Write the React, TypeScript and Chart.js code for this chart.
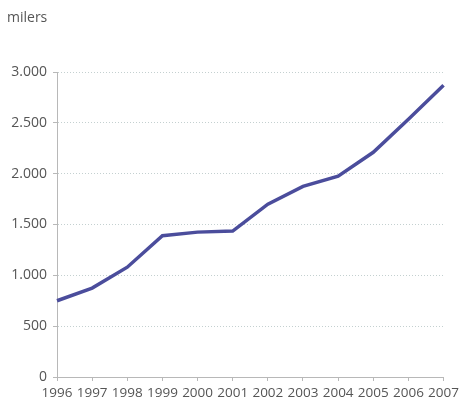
import React, { useEffect, useRef } from "react";
import { Chart, registerables } from "chart.js";

Chart.register(...registerables);

const years = ["1996", "1997", "1998", "1999", "2000", "2001", "2002", "2003", "2004", "2005", "2006", "2007"];
const values = [750, 875, 1080, 1390, 1425, 1435, 1700, 1875, 1975, 2210, 2535, 2870];
const unitLabel = "milers";

const fmt = (v: number) => String(v).replace(/\B(?=(\d{3})+(?!\d))/g, ".");

const unitPlugin = {
  id: "unitLabel",
  afterDraw(chart: any) {
    const ctx = chart.ctx;
    ctx.save();
    ctx.font = "14px 'Open Sans', sans-serif";
    ctx.fillStyle = "#555";
    ctx.textAlign = "left";
    ctx.textBaseline = "middle";
    ctx.fillText(unitLabel, 7, 18);
    ctx.restore();
  },
};

export default function App() {
  const ref = useRef<HTMLCanvasElement | null>(null);
  useEffect(() => {
    if (!ref.current) return;
    const chart = new Chart(ref.current, {
      type: "line",
      data: {
        labels: years,
        datasets: [
          {
            data: values,
            borderColor: "#4b4d9c",
            borderWidth: 3.5,
            pointRadius: 0,
            tension: 0,
            fill: false,
          },
        ],
      },
      options: {
        animation: false,
        responsive: false,
        layout: { padding: { top: 72, right: 9, left: 0, bottom: 0 } },
        plugins: { legend: { display: false }, tooltip: { enabled: false }, title: { display: false } },
        scales: {
          x: {
            offset: false,
            grid: {
              display: true,
              drawOnChartArea: false,
              drawTicks: true,
              tickLength: 4,
              tickColor: "#b8b8b8",
            },
            border: { display: true, color: "#b8b8b8", width: 1 },
            ticks: {
              autoSkip: false,
              maxRotation: 0,
              minRotation: 0,
              color: "#555",
              padding: 4,
              font: { family: "'Open Sans', sans-serif", size: 13.5 },
            },
            afterFit: (s: any) => {
              s.height = 27;
            },
          },
          y: {
            min: 0,
            max: 3000,
            ticks: {
              stepSize: 500,
              color: "#555",
              padding: 6,
              font: { family: "'Open Sans', sans-serif", size: 14 },
              callback: (v: any) => fmt(Number(v)),
            },
            grid: {
              color: (c: any) => (c.tick && c.tick.value === 0 ? "rgba(0,0,0,0)" : "#c4d0d0"),
              lineWidth: 1,
              drawTicks: true,
              tickLength: 4,
              tickColor: "#b8b8b8",
              tickBorderDash: [],
            },
            border: { display: true, color: "#b8b8b8", width: 1, dash: [1, 2] },
            afterFit: (s: any) => {
              s.width = 57;
            },
          },
        },
      },
      plugins: [unitPlugin],
    } as any);
    return () => chart.destroy();
  }, []);
  return (
    <div style={{ position: "fixed", left: 0, top: 0, width: 463, height: 404, background: "#fff" }}>
      <canvas ref={ref} width={463} height={404} style={{ width: 463, height: 404 }} />
    </div>
  );
}
